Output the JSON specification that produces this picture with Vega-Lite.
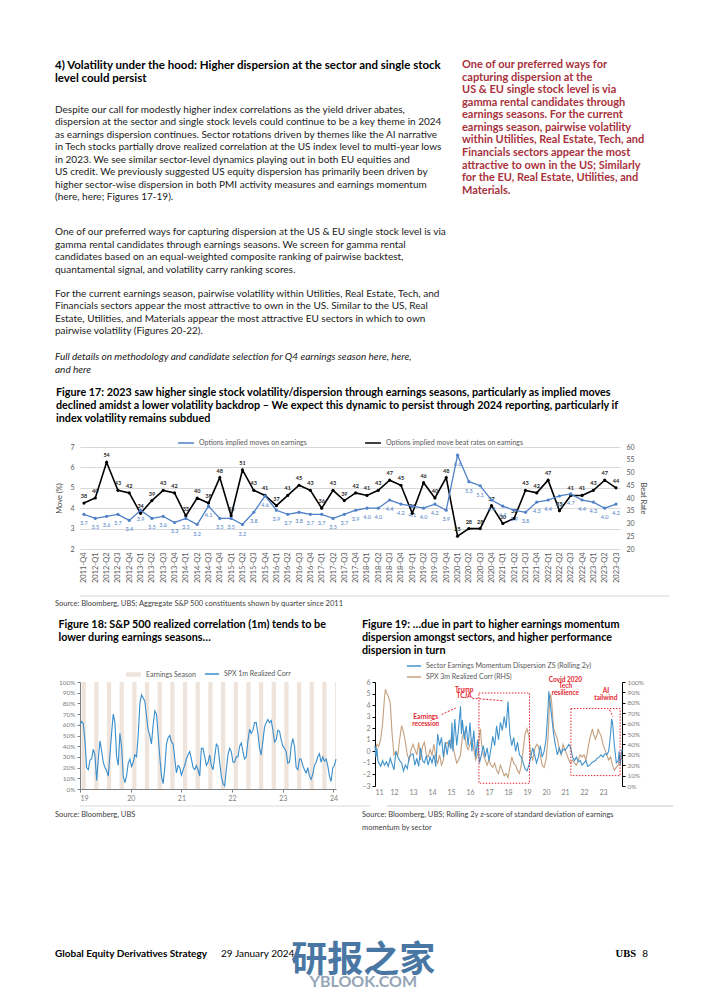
{
"$schema": "https://vega.github.io/schema/vega-lite/v6.json",
"background": "white",
"padding": {"left": 55, "top": 57, "right": 5, "bottom": 0},
"spacing": 0,
"resolve": {"scale": {"color": "independent", "fill": "independent", "stroke": "independent"}, "legend": {"color": "independent", "fill": "independent", "stroke": "independent"}},
"config": {
 "view": {"stroke": null},
 "font": "Lato",
 "axis": {"labelFont": "Lato", "titleFont": "Lato", "labelColor": "#595959", "titleColor": "#404040", "labelFontSize": 7, "titleFontSize": 7.5, "titleFontWeight": "normal", "domainColor": "#808080", "tickColor": "#808080", "labelOverlap": false},
 "legend": {"labelFont": "Lato", "labelColor": "#595959", "labelFontSize": 7, "labelLimit": 300, "layout": {"top": {"anchor": "middle"}}},
 "title": {"font": "Lato", "color": "#000000"}
},
"datasets": {
 "q17": [
  {"q":"2011-Q4","m":3.7,"b":38},{"q":"2012-Q1","m":3.5,"b":40},{"q":"2012-Q2","m":3.6,"b":54},{"q":"2012-Q3","m":3.7,"b":43},{"q":"2012-Q4","m":3.4,"b":42},
  {"q":"2013-Q1","m":3.9,"b":34},{"q":"2013-Q2","m":3.5,"b":39},{"q":"2013-Q3","m":3.6,"b":43},{"q":"2013-Q4","m":3.3,"b":42},
  {"q":"2014-Q1","m":3.5,"b":33},{"q":"2014-Q2","m":3.2,"b":40},{"q":"2014-Q3","m":4.1,"b":38},{"q":"2014-Q4","m":3.5,"b":48},
  {"q":"2015-Q1","m":3.5,"b":33},{"q":"2015-Q2","m":3.2,"b":51},{"q":"2015-Q3","m":3.8,"b":43},{"q":"2015-Q4","m":4.6,"b":41},
  {"q":"2016-Q1","m":3.9,"b":37},{"q":"2016-Q2","m":3.7,"b":41},{"q":"2016-Q3","m":3.8,"b":45},{"q":"2016-Q4","m":3.7,"b":43},
  {"q":"2017-Q1","m":3.7,"b":36},{"q":"2017-Q2","m":3.5,"b":43},{"q":"2017-Q3","m":3.7,"b":39},{"q":"2017-Q4","m":3.9,"b":42},
  {"q":"2018-Q1","m":4.0,"b":41},{"q":"2018-Q2","m":4.0,"b":43},{"q":"2018-Q3","m":4.4,"b":47},{"q":"2018-Q4","m":4.2,"b":45},
  {"q":"2019-Q1","m":4.1,"b":34},{"q":"2019-Q2","m":4.0,"b":46},{"q":"2019-Q3","m":4.2,"b":40},{"q":"2019-Q4","m":3.9,"b":48},
  {"q":"2020-Q1","m":6.6,"b":25},{"q":"2020-Q2","m":5.3,"b":28},{"q":"2020-Q3","m":5.1,"b":28},{"q":"2020-Q4","m":4.4,"b":37},
  {"q":"2021-Q1","m":4.1,"b":30},{"q":"2021-Q2","m":3.9,"b":32},{"q":"2021-Q3","m":3.8,"b":43},{"q":"2021-Q4","m":4.3,"b":42},
  {"q":"2022-Q1","m":4.4,"b":47},{"q":"2022-Q2","m":4.6,"b":35},{"q":"2022-Q3","m":4.7,"b":41},{"q":"2022-Q4","m":4.4,"b":41},
  {"q":"2023-Q1","m":4.3,"b":43},{"q":"2023-Q2","m":4.0,"b":47},{"q":"2023-Q3","m":4.2,"b":44}
 ],
 "bands": [
  {"s":2019.03,"e":2019.115},{"s":2019.28,"e":2019.365},{"s":2019.53,"e":2019.615},{"s":2019.78,"e":2019.865},
  {"s":2020.03,"e":2020.115},{"s":2020.28,"e":2020.365},{"s":2020.53,"e":2020.615},{"s":2020.78,"e":2020.865},
  {"s":2021.03,"e":2021.115},{"s":2021.28,"e":2021.365},{"s":2021.53,"e":2021.615},{"s":2021.78,"e":2021.865},
  {"s":2022.03,"e":2022.115},{"s":2022.28,"e":2022.365},{"s":2022.53,"e":2022.615},{"s":2022.78,"e":2022.865},
  {"s":2023.03,"e":2023.115},{"s":2023.28,"e":2023.365},{"s":2023.53,"e":2023.615},{"s":2023.78,"e":2023.865},
  {"s":2024.03,"e":2024.05}
 ],
 "corr18": [
  {"t":2019.000,"v":60},{"t":2019.033,"v":63},{"t":2019.066,"v":61},{"t":2019.098,"v":45},{"t":2019.131,"v":20},{"t":2019.164,"v":18},{"t":2019.197,"v":27},{"t":2019.230,"v":28},{"t":2019.262,"v":37},{"t":2019.295,"v":32},
  {"t":2019.328,"v":8},{"t":2019.361,"v":28},{"t":2019.394,"v":45},{"t":2019.426,"v":36},{"t":2019.459,"v":25},{"t":2019.492,"v":20},{"t":2019.525,"v":17},{"t":2019.558,"v":12},{"t":2019.590,"v":32},{"t":2019.623,"v":52},
  {"t":2019.656,"v":70},{"t":2019.689,"v":62},{"t":2019.722,"v":30},{"t":2019.754,"v":22},{"t":2019.787,"v":52},{"t":2019.820,"v":40},{"t":2019.853,"v":12},{"t":2019.886,"v":6},{"t":2019.918,"v":12},{"t":2019.951,"v":24},
  {"t":2019.984,"v":28},{"t":2020.017,"v":21},{"t":2020.050,"v":25},{"t":2020.082,"v":32},{"t":2020.115,"v":30},{"t":2020.148,"v":50},{"t":2020.181,"v":80},{"t":2020.214,"v":88},{"t":2020.246,"v":85},{"t":2020.279,"v":82},
  {"t":2020.312,"v":68},{"t":2020.345,"v":55},{"t":2020.378,"v":50},{"t":2020.410,"v":42},{"t":2020.443,"v":60},{"t":2020.476,"v":73},{"t":2020.509,"v":70},{"t":2020.542,"v":50},{"t":2020.574,"v":30},{"t":2020.607,"v":12},
  {"t":2020.640,"v":5},{"t":2020.673,"v":20},{"t":2020.706,"v":42},{"t":2020.738,"v":48},{"t":2020.771,"v":50},{"t":2020.804,"v":44},{"t":2020.837,"v":42},{"t":2020.870,"v":28},{"t":2020.902,"v":15},{"t":2020.935,"v":22},
  {"t":2020.968,"v":20},{"t":2021.001,"v":13},{"t":2021.034,"v":18},{"t":2021.066,"v":22},{"t":2021.099,"v":28},{"t":2021.132,"v":32},{"t":2021.165,"v":35},{"t":2021.198,"v":28},{"t":2021.230,"v":20},{"t":2021.263,"v":18},
  {"t":2021.296,"v":22},{"t":2021.329,"v":18},{"t":2021.362,"v":12},{"t":2021.394,"v":38},{"t":2021.427,"v":38},{"t":2021.460,"v":30},{"t":2021.493,"v":22},{"t":2021.526,"v":25},{"t":2021.558,"v":32},{"t":2021.591,"v":22},
  {"t":2021.624,"v":18},{"t":2021.657,"v":30},{"t":2021.690,"v":42},{"t":2021.722,"v":40},{"t":2021.755,"v":25},{"t":2021.788,"v":12},{"t":2021.821,"v":5},{"t":2021.854,"v":3},{"t":2021.886,"v":18},{"t":2021.919,"v":32},
  {"t":2021.952,"v":38},{"t":2021.985,"v":35},{"t":2022.018,"v":25},{"t":2022.050,"v":25},{"t":2022.083,"v":30},{"t":2022.116,"v":30},{"t":2022.149,"v":40},{"t":2022.182,"v":43},{"t":2022.214,"v":35},{"t":2022.247,"v":28},
  {"t":2022.280,"v":30},{"t":2022.313,"v":45},{"t":2022.346,"v":56},{"t":2022.378,"v":52},{"t":2022.411,"v":55},{"t":2022.444,"v":62},{"t":2022.477,"v":62},{"t":2022.510,"v":52},{"t":2022.542,"v":38},{"t":2022.575,"v":32},
  {"t":2022.608,"v":45},{"t":2022.641,"v":58},{"t":2022.674,"v":62},{"t":2022.706,"v":65},{"t":2022.739,"v":62},{"t":2022.772,"v":64},{"t":2022.805,"v":55},{"t":2022.838,"v":44},{"t":2022.870,"v":46},{"t":2022.903,"v":55},
  {"t":2022.936,"v":54},{"t":2022.969,"v":46},{"t":2023.002,"v":40},{"t":2023.034,"v":38},{"t":2023.067,"v":35},{"t":2023.100,"v":24},{"t":2023.133,"v":25},{"t":2023.166,"v":40},{"t":2023.198,"v":47},{"t":2023.231,"v":40},
  {"t":2023.264,"v":20},{"t":2023.297,"v":18},{"t":2023.330,"v":28},{"t":2023.362,"v":28},{"t":2023.395,"v":22},{"t":2023.428,"v":18},{"t":2023.461,"v":15},{"t":2023.494,"v":20},{"t":2023.526,"v":12},{"t":2023.559,"v":9},
  {"t":2023.592,"v":14},{"t":2023.625,"v":22},{"t":2023.658,"v":25},{"t":2023.690,"v":30},{"t":2023.723,"v":33},{"t":2023.756,"v":25},{"t":2023.789,"v":30},{"t":2023.822,"v":26},{"t":2023.854,"v":28},{"t":2023.887,"v":22},
  {"t":2023.920,"v":12},{"t":2023.953,"v":7},{"t":2023.986,"v":20},{"t":2024.018,"v":22},{"t":2024.051,"v":28}
 ],
 "zs19": [
  {"t":2011.0,"v":0.5},{"t":2011.05,"v":-0.5},{"t":2011.1,"v":0.3},{"t":2011.15,"v":-0.8},{"t":2011.2,"v":-1.0},{"t":2011.3,"v":-1.3},{"t":2011.4,"v":-0.8},{"t":2011.5,"v":-1.2},{"t":2011.6,"v":-0.9},{"t":2011.7,"v":-1.3},{"t":2011.8,"v":-0.6},{"t":2011.9,"v":-1.1},
  {"t":2012.0,"v":-1.6},{"t":2012.1,"v":0.0},{"t":2012.2,"v":-0.5},{"t":2012.3,"v":-0.8},{"t":2012.4,"v":-1.0},{"t":2012.5,"v":-1.7},{"t":2012.6,"v":-1.2},{"t":2012.7,"v":-1.5},{"t":2012.8,"v":-0.5},{"t":2012.9,"v":-0.3},
  {"t":2013.0,"v":-0.2},{"t":2013.1,"v":-1.2},{"t":2013.2,"v":-0.6},{"t":2013.3,"v":-1.3},{"t":2013.4,"v":0.3},{"t":2013.5,"v":-0.8},{"t":2013.6,"v":-1.0},{"t":2013.7,"v":-0.4},{"t":2013.8,"v":-1.2},{"t":2013.9,"v":-0.5},
  {"t":2014.0,"v":-1.0},{"t":2014.1,"v":-0.3},{"t":2014.2,"v":-1.3},{"t":2014.3,"v":1.5},{"t":2014.4,"v":0.5},{"t":2014.5,"v":1.2},{"t":2014.6,"v":-0.5},{"t":2014.7,"v":0.8},{"t":2014.8,"v":-0.3},{"t":2014.9,"v":1.0},
  {"t":2015.0,"v":0.2},{"t":2015.05,"v":2.5},{"t":2015.1,"v":0.0},{"t":2015.2,"v":2.8},{"t":2015.3,"v":0.5},{"t":2015.4,"v":2.0},{"t":2015.5,"v":3.9},{"t":2015.55,"v":1.5},{"t":2015.6,"v":2.7},{"t":2015.7,"v":1.0},{"t":2015.8,"v":2.2},{"t":2015.9,"v":0.5},
  {"t":2016.0,"v":2.5},{"t":2016.1,"v":0.0},{"t":2016.2,"v":1.8},{"t":2016.3,"v":-0.5},{"t":2016.4,"v":1.0},{"t":2016.5,"v":-1.0},{"t":2016.6,"v":-0.3},{"t":2016.7,"v":0.5},{"t":2016.8,"v":-0.5},{"t":2016.9,"v":0.3},
  {"t":2017.0,"v":-0.8},{"t":2017.1,"v":0.2},{"t":2017.2,"v":1.3},{"t":2017.3,"v":0.5},{"t":2017.4,"v":2.2},{"t":2017.5,"v":1.0},{"t":2017.6,"v":2.5},{"t":2017.7,"v":1.8},{"t":2017.8,"v":3.0},{"t":2017.9,"v":2.0},
  {"t":2018.0,"v":4.3},{"t":2018.1,"v":1.5},{"t":2018.2,"v":0.5},{"t":2018.3,"v":1.2},{"t":2018.4,"v":0.0},{"t":2018.5,"v":0.8},{"t":2018.6,"v":-0.3},{"t":2018.7,"v":-0.5},{"t":2018.8,"v":-1.0},{"t":2018.9,"v":-1.5},
  {"t":2019.0,"v":-1.7},{"t":2019.1,"v":-1.2},{"t":2019.2,"v":-0.5},{"t":2019.3,"v":0.3},{"t":2019.4,"v":-0.3},{"t":2019.5,"v":-1.0},{"t":2019.6,"v":-0.5},{"t":2019.7,"v":0.5},{"t":2019.8,"v":-0.5},{"t":2019.9,"v":0.0},
  {"t":2020.0,"v":1.0},{"t":2020.1,"v":3.5},{"t":2020.15,"v":5.2},{"t":2020.2,"v":4.5},{"t":2020.3,"v":3.0},{"t":2020.4,"v":1.5},{"t":2020.5,"v":0.5},{"t":2020.6,"v":-0.3},{"t":2020.7,"v":0.3},{"t":2020.8,"v":-0.2},{"t":2020.9,"v":0.2},
  {"t":2021.0,"v":0.1},{"t":2021.1,"v":0.3},{"t":2021.2,"v":0.6},{"t":2021.3,"v":0.3},{"t":2021.4,"v":-0.5},{"t":2021.5,"v":-0.8},{"t":2021.6,"v":-0.5},{"t":2021.7,"v":-0.9},{"t":2021.8,"v":-0.8},{"t":2021.9,"v":-1.2},
  {"t":2022.0,"v":-1.0},{"t":2022.1,"v":-0.8},{"t":2022.2,"v":-1.3},{"t":2022.3,"v":-1.2},{"t":2022.4,"v":-1.0},{"t":2022.5,"v":-0.9},{"t":2022.6,"v":-0.8},{"t":2022.7,"v":-0.6},{"t":2022.8,"v":-0.5},{"t":2022.9,"v":-0.3},
  {"t":2023.0,"v":-0.5},{"t":2023.1,"v":-0.2},{"t":2023.2,"v":-0.3},{"t":2023.3,"v":0.0},{"t":2023.4,"v":1.5},{"t":2023.45,"v":2.8},{"t":2023.5,"v":2.5},{"t":2023.6,"v":0.5},{"t":2023.7,"v":-1.0},{"t":2023.8,"v":-0.8},{"t":2023.85,"v":0.0},{"t":2023.9,"v":-1.2},{"t":2024.0,"v":0.2}
 ],
 "corr19": [
  {"t":2011.0,"v":30},{"t":2011.1,"v":40},{"t":2011.2,"v":38},{"t":2011.3,"v":45},{"t":2011.4,"v":60},{"t":2011.5,"v":85},{"t":2011.55,"v":93},{"t":2011.6,"v":90},{"t":2011.7,"v":86},{"t":2011.8,"v":80},{"t":2011.9,"v":50},
  {"t":2012.0,"v":30},{"t":2012.1,"v":33},{"t":2012.2,"v":30},{"t":2012.3,"v":45},{"t":2012.4,"v":58},{"t":2012.5,"v":52},{"t":2012.6,"v":42},{"t":2012.7,"v":30},{"t":2012.8,"v":25},{"t":2012.9,"v":35},
  {"t":2013.0,"v":40},{"t":2013.1,"v":35},{"t":2013.2,"v":30},{"t":2013.3,"v":42},{"t":2013.4,"v":25},{"t":2013.5,"v":38},{"t":2013.6,"v":42},{"t":2013.7,"v":30},{"t":2013.8,"v":28},{"t":2013.9,"v":35},
  {"t":2014.0,"v":30},{"t":2014.1,"v":40},{"t":2014.2,"v":28},{"t":2014.3,"v":22},{"t":2014.4,"v":30},{"t":2014.5,"v":20},{"t":2014.6,"v":25},{"t":2014.7,"v":40},{"t":2014.8,"v":42},{"t":2014.9,"v":38},
  {"t":2015.0,"v":45},{"t":2015.1,"v":38},{"t":2015.2,"v":30},{"t":2015.3,"v":22},{"t":2015.4,"v":25},{"t":2015.5,"v":30},{"t":2015.6,"v":48},{"t":2015.7,"v":52},{"t":2015.8,"v":40},{"t":2015.9,"v":35},
  {"t":2016.0,"v":40},{"t":2016.1,"v":45},{"t":2016.2,"v":35},{"t":2016.3,"v":25},{"t":2016.4,"v":30},{"t":2016.5,"v":50},{"t":2016.55,"v":55},{"t":2016.6,"v":42},{"t":2016.7,"v":30},{"t":2016.8,"v":25},{"t":2016.9,"v":20},
  {"t":2017.0,"v":25},{"t":2017.1,"v":20},{"t":2017.2,"v":18},{"t":2017.3,"v":22},{"t":2017.4,"v":15},{"t":2017.5,"v":12},{"t":2017.6,"v":20},{"t":2017.7,"v":15},{"t":2017.8,"v":10},{"t":2017.9,"v":12},
  {"t":2018.0,"v":8},{"t":2018.1,"v":18},{"t":2018.2,"v":28},{"t":2018.3,"v":22},{"t":2018.4,"v":20},{"t":2018.5,"v":15},{"t":2018.6,"v":12},{"t":2018.7,"v":20},{"t":2018.8,"v":35},{"t":2018.9,"v":50},
  {"t":2019.0,"v":55},{"t":2019.1,"v":48},{"t":2019.2,"v":30},{"t":2019.3,"v":25},{"t":2019.4,"v":35},{"t":2019.5,"v":40},{"t":2019.6,"v":38},{"t":2019.7,"v":30},{"t":2019.8,"v":20},{"t":2019.9,"v":18},
  {"t":2020.0,"v":25},{"t":2020.1,"v":45},{"t":2020.2,"v":85},{"t":2020.25,"v":88},{"t":2020.3,"v":80},{"t":2020.4,"v":55},{"t":2020.5,"v":50},{"t":2020.6,"v":45},{"t":2020.7,"v":35},{"t":2020.8,"v":30},{"t":2020.9,"v":40},
  {"t":2021.0,"v":35},{"t":2021.1,"v":30},{"t":2021.2,"v":25},{"t":2021.3,"v":22},{"t":2021.4,"v":25},{"t":2021.5,"v":22},{"t":2021.6,"v":20},{"t":2021.7,"v":25},{"t":2021.8,"v":30},{"t":2021.9,"v":28},
  {"t":2022.0,"v":30},{"t":2022.1,"v":25},{"t":2022.2,"v":35},{"t":2022.3,"v":45},{"t":2022.4,"v":52},{"t":2022.45,"v":55},{"t":2022.5,"v":50},{"t":2022.6,"v":45},{"t":2022.7,"v":50},{"t":2022.75,"v":55},{"t":2022.8,"v":52},{"t":2022.9,"v":48},
  {"t":2023.0,"v":40},{"t":2023.1,"v":35},{"t":2023.2,"v":30},{"t":2023.3,"v":25},{"t":2023.4,"v":28},{"t":2023.5,"v":20},{"t":2023.6,"v":15},{"t":2023.7,"v":18},{"t":2023.8,"v":20},{"t":2023.9,"v":30},{"t":2024.0,"v":25}
 ],
 "boxes": [{"t1":2016.47,"t2":2019.13,"y1":5.05,"y2":-2.76},{"t1":2021.31,"t2":2023.9,"y1":3.7,"y2":-2.1}],
 "arrows": [{"t1":2014.5,"y1":3.18,"t2":2015.25,"y2":3.75},{"t1":2016.12,"y1":4.6,"t2":2017.7,"y2":4.38},{"t1":2023.34,"y1":3.6,"t2":2023.52,"y2":3.0}],
 "notes": [
  {"t":2013.67,"y":3.0,"s":"Earnings"},{"t":2013.67,"y":2.35,"s":"recession"},
  {"t":2015.69,"y":5.35,"s":"Trump"},{"t":2015.69,"y":4.83,"s":"TCJA"},
  {"t":2021.02,"y":6.2,"s":"Covid 2020"},{"t":2021.02,"y":5.62,"s":"Tech"},{"t":2021.02,"y":5.05,"s":"resilience"},
  {"t":2023.15,"y":5.2,"s":"AI"},{"t":2023.15,"y":4.65,"s":"tailwind"}
 ]
},
"vconcat": [
 {
  "hconcat": [
   {
    "width": 392, "height": 330,
    "data": {"values": [
     {"i":0,"s":"h","t":"4) Volatility under the hood: Higher dispersion at the sector and single stock"},
     {"i":1,"s":"h","t":"level could persist"},
     {"i":3.5,"s":"n","t":"Despite our call for modestly higher index correlations as the yield driver abates,"},
     {"i":4.5,"s":"n","t":"dispersion at the sector and single stock levels could continue to be a key theme in 2024"},
     {"i":5.5,"s":"n","t":"as earnings dispersion continues. Sector rotations driven by themes like the AI narrative"},
     {"i":6.5,"s":"n","t":"in Tech stocks partially drove realized correlation at the US index level to multi-year lows"},
     {"i":7.5,"s":"n","t":"in 2023. We see similar sector-level dynamics playing out in both EU equities and"},
     {"i":8.5,"s":"n","t":"US credit. We previously suggested US equity dispersion has primarily been driven by"},
     {"i":9.5,"s":"n","t":"higher sector-wise dispersion in both PMI activity measures and earnings momentum"},
     {"i":10.5,"s":"n","t":"(here, here; Figures 17-19)."},
     {"i":13.3,"s":"n","t":"One of our preferred ways for capturing dispersion at the US & EU single stock level is via"},
     {"i":14.3,"s":"n","t":"gamma rental candidates through earnings seasons. We screen for gamma rental"},
     {"i":15.3,"s":"n","t":"candidates based on an equal-weighted composite ranking of pairwise backtest,"},
     {"i":16.3,"s":"n","t":"quantamental signal, and volatility carry ranking scores."},
     {"i":18.2,"s":"n","t":"For the current earnings season, pairwise volatility within Utilities, Real Estate, Tech, and"},
     {"i":19.2,"s":"n","t":"Financials sectors appear the most attractive to own in the US. Similar to the US, Real"},
     {"i":20.2,"s":"n","t":"Estate, Utilities, and Materials appear the most attractive EU sectors in which to own"},
     {"i":21.2,"s":"n","t":"pairwise volatility (Figures 20-22)."},
     {"i":23.3,"s":"it","t":"Full details on methodology and candidate selection for Q4 earnings season here, here,"},
     {"i":24.3,"s":"it","t":"and here"}
    ]},
    "encoding": {
     "x": {"datum": 0, "type": "quantitative", "scale": {"domain": [0, 1]}, "axis": null},
     "y": {"field": "i", "type": "quantitative", "scale": {"domain": [-0.72, 25.68], "reverse": true, "nice": false, "zero": false}, "axis": null},
     "text": {"field": "t"}
    },
    "layer": [
     {"transform": [{"filter": "datum.s === 'h'"}], "mark": {"type": "text", "align": "left", "baseline": "middle", "dx": -25, "fontWeight": "bold", "fontSize": 11.5, "color": "#000000"}},
     {"transform": [{"filter": "datum.s === 'n'"}], "mark": {"type": "text", "align": "left", "baseline": "middle", "dx": -25, "fontSize": 10, "color": "#1a1a1a"}},
     {"transform": [{"filter": "datum.s === 'it'"}], "mark": {"type": "text", "align": "left", "baseline": "middle", "dx": -25, "fontSize": 10, "fontStyle": "italic", "color": "#1a1a1a"}}
    ]
   },
   {
    "width": 190, "height": 330,
    "data": {"values": [
     {"i":0,"t":"One of our preferred ways for"},
     {"i":1,"t":"capturing dispersion at the"},
     {"i":2,"t":"US & EU single stock level is via"},
     {"i":3,"t":"gamma rental candidates through"},
     {"i":4,"t":"earnings seasons. For the current"},
     {"i":5,"t":"earnings season, pairwise volatility"},
     {"i":6,"t":"within Utilities, Real Estate, Tech, and"},
     {"i":7,"t":"Financials sectors appear the most"},
     {"i":8,"t":"attractive to own in the US; Similarly"},
     {"i":9,"t":"for the EU, Real Estate, Utilities, and"},
     {"i":10,"t":"Materials."}
    ]},
    "mark": {"type": "text", "align": "left", "baseline": "middle", "dx": -25, "fontWeight": "bold", "fontSize": 11, "color": "#a8323c"},
    "encoding": {
     "x": {"datum": 0, "type": "quantitative", "scale": {"domain": [0, 1]}, "axis": null},
     "y": {"field": "i", "type": "quantitative", "scale": {"domain": [-0.636, 25.62], "reverse": true, "nice": false, "zero": false}, "axis": null},
     "text": {"field": "t"}
    }
   }
  ],
  "spacing": 15,
  "bounds": "flush"
 },
 {
  "width": 540, "height": 102,
  "title": {"text": ["Figure 17: 2023 saw higher single stock volatility/dispersion through earnings seasons, particularly as implied moves", "declined amidst a lower volatility backdrop – We expect this dynamic to persist through 2024 reporting, particularly if", "index volatility remains subdued"], "anchor": "start", "frame": "bounds", "fontSize": 10.8, "fontWeight": "bold", "lineHeight": 13, "offset": 10},
  "data": {"name": "q17"},
  "encoding": {
   "x": {"field": "q", "type": "ordinal", "sort": null, "scale": {"type": "point", "padding": 0.35}, "axis": {"title": null, "labelAngle": -90, "labelFontSize": 7.5, "labelPadding": 3, "domain": false, "ticks": false}}
  },
  "layer": [
   {
    "encoding": {"y": {"field": "b", "type": "quantitative", "scale": {"domain": [20, 60], "nice": false, "zero": false}, "axis": {"title": "Beat Rate", "orient": "right", "values": [20,25,30,35,40,45,50,55,60], "grid": false, "domain": false, "ticks": false, "labelPadding": 6, "titlePadding": 4}}},
    "layer": [
     {"mark": {"type": "line", "strokeWidth": 1.6}, "encoding": {"color": {"datum": "Options implied move beat rates on earnings", "type": "nominal", "scale": {"domain": ["Options implied moves on earnings", "Options implied move beat rates on earnings"], "range": ["#4f81c7", "#000000"]}, "legend": {"title": null, "orient": "top", "direction": "horizontal", "symbolType": "stroke", "symbolStrokeWidth": 1.5, "symbolSize": 250, "columnPadding": 55, "offset": 1, "padding": 0, "labelFontSize": 7}}}},
     {"mark": {"type": "point", "filled": true, "size": 10, "opacity": 1}, "encoding": {"color": {"datum": "Options implied move beat rates on earnings", "type": "nominal"}}},
     {"mark": {"type": "text", "dy": -7, "fontSize": 5.5, "fontWeight": "bold", "color": "#262626"}, "encoding": {"text": {"field": "b", "type": "quantitative"}}}
    ]
   },
   {
    "encoding": {"y": {"field": "m", "type": "quantitative", "scale": {"domain": [2, 7], "nice": false, "zero": false}, "axis": {"title": "Move (%)", "orient": "left", "values": [2,3,4,5,6,7], "grid": true, "gridColor": "#d9d9d9", "domain": false, "ticks": false, "labelPadding": 6, "titlePadding": 6}}},
    "layer": [
     {"mark": {"type": "line", "strokeWidth": 1.3}, "encoding": {"color": {"datum": "Options implied moves on earnings", "type": "nominal"}}},
     {"mark": {"type": "point", "filled": true, "size": 10, "opacity": 1}, "encoding": {"color": {"datum": "Options implied moves on earnings", "type": "nominal"}}},
     {"mark": {"type": "text", "dy": 9, "fontSize": 5.5, "color": "#4f81c7"}, "encoding": {"text": {"field": "m", "type": "quantitative", "format": ".1f"}}}
    ]
   }
  ],
  "resolve": {"scale": {"y": "independent"}}
 },
 {
  "width": 590, "height": 36,
  "data": {"values": [{"t": "Source: Bloomberg, UBS; Aggregate S&P 500 constituents shown by quarter since 2011"}]},
  "layer": [
   {"mark": {"type": "rule", "color": "#d9d9d9", "strokeWidth": 1}, "encoding": {"y": {"datum": 1.3, "type": "quantitative", "scale": {"domain": [0, 3.6], "reverse": true, "nice": false, "zero": false}, "axis": null}}},
   {"mark": {"type": "text", "align": "left", "baseline": "middle", "dx": -25, "fontSize": 7.5, "color": "#404040"}, "encoding": {"x": {"datum": 0, "type": "quantitative", "scale": {"domain": [0, 1]}, "axis": null}, "y": {"datum": 2.1, "type": "quantitative"}, "text": {"field": "t"}}}
  ]
 },
 {
  "hconcat": [
   {
    "width": 256, "height": 107,
    "title": {"text": ["Figure 18: S&P 500 realized correlation (1m) tends to be", "lower during earnings seasons…"], "anchor": "start", "frame": "bounds", "fontSize": 10.8, "fontWeight": "bold", "lineHeight": 13, "offset": 23},
    "layer": [
     {"data": {"name": "bands"}, "mark": {"type": "rect"}, "encoding": {
       "x": {"field": "s", "type": "quantitative", "scale": {"domain": [2019, 2024.05], "nice": false, "zero": false}, "axis": {"title": null, "values": [2019,2020,2021,2022,2023,2024], "labelExpr": "substring(toString(datum.value), 2)", "grid": false, "domain": true, "ticks": true, "tickSize": 3, "labelFontSize": 7, "labelColor": "#808080"}},
       "x2": {"field": "e"},
       "fill": {"datum": "Earnings Season", "type": "nominal", "scale": {"range": ["#efe4dc"]}, "legend": {"title": null, "orient": "top", "symbolType": "M-1,-0.3H1V0.3H-1Z", "symbolSize": 220, "offset": 4, "padding": 0, "labelFontSize": 7}}
     }},
     {"data": {"name": "corr18"}, "mark": {"type": "line", "strokeWidth": 1.1}, "encoding": {
       "x": {"field": "t", "type": "quantitative", "axis": {"title": null, "values": [2019,2020,2021,2022,2023,2024], "labelExpr": "substring(toString(datum.value), 2)", "grid": false, "domain": true, "ticks": true, "tickSize": 3, "labelFontSize": 7, "labelColor": "#808080"}},
       "y": {"field": "v", "type": "quantitative", "scale": {"domain": [0, 100], "nice": false}, "axis": {"title": null, "values": [0,10,20,30,40,50,60,70,80,90,100], "labelExpr": "datum.value + '%'", "grid": false, "domain": true, "ticks": true, "tickSize": 3, "labelFontSize": 6.5, "labelColor": "#808080"}},
       "stroke": {"datum": "SPX 1m Realized Corr", "type": "nominal", "scale": {"range": ["#3a8ecc"]}, "legend": {"title": null, "orient": "top", "symbolType": "stroke", "symbolSize": 200, "symbolStrokeWidth": 1.5, "offset": 4, "padding": 0, "labelFontSize": 7}}
     }}
    ]
   },
   {
    "width": 247, "height": 104,
    "title": {"text": ["Figure 19: …due in part to higher earnings momentum", "dispersion amongst sectors, and higher performance", "dispersion in turn"], "anchor": "start", "frame": "bounds", "fontSize": 10.8, "fontWeight": "bold", "lineHeight": 13, "offset": 2},
    "layer": [
     {"data": {"name": "corr19"}, "mark": {"type": "line", "strokeWidth": 1.1}, "encoding": {
       "x": {"field": "t", "type": "quantitative", "scale": {"domain": [2011, 2024], "nice": false, "zero": false}, "axis": {"title": null, "values": [2011,2012,2013,2014,2015,2016,2017,2018,2019,2020,2021,2022,2023], "labelExpr": "substring(toString(datum.value), 2)", "grid": false, "domain": false, "ticks": false, "labelFontSize": 7, "labelColor": "#808080"}},
       "y": {"field": "v", "type": "quantitative", "scale": {"domain": [0, 100], "nice": false}, "axis": {"title": null, "orient": "right", "values": [0,10,20,30,40,50,60,70,80,90,100], "labelExpr": "datum.value + '%'", "grid": false, "domain": true, "domainColor": "#000000", "ticks": true, "tickColor": "#000000", "tickSize": 3, "labelFontSize": 6.5, "labelColor": "#808080"}},
       "color": {"datum": "SPX 3m Realized Corr (RHS)", "type": "nominal", "scale": {"domain": ["Sector Earnings Momentum Dispersion ZS (Rolling 2y)", "SPX 3m Realized Corr (RHS)"], "range": ["#4393cb", "#c4a07f"]}, "legend": {"title": null, "orient": "top", "direction": "vertical", "symbolType": "stroke", "symbolSize": 200, "symbolStrokeWidth": 1.5, "offset": 2, "padding": 0, "rowPadding": 0, "labelFontSize": 7}}
     }},
     {
      "layer": [
       {"data": {"name": "zs19"}, "mark": {"type": "line", "strokeWidth": 1.1}, "encoding": {
         "x": {"field": "t", "type": "quantitative", "axis": {"title": null, "values": [2011,2012,2013,2014,2015,2016,2017,2018,2019,2020,2021,2022,2023], "labelExpr": "substring(toString(datum.value), 2)", "grid": false, "domain": false, "ticks": false, "labelFontSize": 7, "labelColor": "#808080"}},
         "y": {"field": "v", "type": "quantitative", "scale": {"domain": [-3, 6], "nice": false, "zero": false}, "axis": {"title": null, "orient": "left", "values": [-3,-2,-1,0,1,2,3,4,5,6], "grid": false, "domain": true, "domainColor": "#000000", "ticks": true, "tickColor": "#000000", "tickSize": 3, "labelFontSize": 7, "labelColor": "#808080"}},
         "color": {"datum": "Sector Earnings Momentum Dispersion ZS (Rolling 2y)", "type": "nominal"}
       }},
       {"mark": {"type": "rule", "color": "#1f3864", "strokeWidth": 1.2}, "encoding": {"y": {"datum": 0, "type": "quantitative", "axis": {"title": null, "orient": "left", "values": [-3,-2,-1,0,1,2,3,4,5,6], "grid": false, "domain": true, "domainColor": "#000000", "ticks": true, "tickColor": "#000000", "tickSize": 3, "labelFontSize": 7, "labelColor": "#808080"}}}},
       {"data": {"name": "boxes"}, "mark": {"type": "rect", "filled": false, "stroke": "#e3262d", "strokeWidth": 1, "strokeDash": [1.5, 1.5]}, "encoding": {
         "x": {"field": "t1", "type": "quantitative", "axis": {"title": null, "values": [2011,2012,2013,2014,2015,2016,2017,2018,2019,2020,2021,2022,2023], "labelExpr": "substring(toString(datum.value), 2)", "grid": false, "domain": false, "ticks": false, "labelFontSize": 7, "labelColor": "#808080"}},
         "x2": {"field": "t2"},
         "y": {"field": "y1", "type": "quantitative", "axis": {"title": null, "orient": "left", "values": [-3,-2,-1,0,1,2,3,4,5,6], "grid": false, "domain": true, "domainColor": "#000000", "ticks": true, "tickColor": "#000000", "tickSize": 3, "labelFontSize": 7, "labelColor": "#808080"}},
         "y2": {"field": "y2"}}},
       {"data": {"name": "arrows"}, "mark": {"type": "rule", "color": "#e3262d", "strokeWidth": 1, "strokeDash": [2, 1.5]}, "encoding": {
         "x": {"field": "t1", "type": "quantitative", "axis": {"title": null, "values": [2011,2012,2013,2014,2015,2016,2017,2018,2019,2020,2021,2022,2023], "labelExpr": "substring(toString(datum.value), 2)", "grid": false, "domain": false, "ticks": false, "labelFontSize": 7, "labelColor": "#808080"}},
         "x2": {"field": "t2"},
         "y": {"field": "y1", "type": "quantitative", "axis": {"title": null, "orient": "left", "values": [-3,-2,-1,0,1,2,3,4,5,6], "grid": false, "domain": true, "domainColor": "#000000", "ticks": true, "tickColor": "#000000", "tickSize": 3, "labelFontSize": 7, "labelColor": "#808080"}},
         "y2": {"field": "y2"}}},
       {"data": {"name": "notes"}, "mark": {"type": "text", "color": "#e3262d", "fontWeight": "bold", "fontSize": 6.5, "baseline": "middle"}, "encoding": {
         "x": {"field": "t", "type": "quantitative", "axis": {"title": null, "values": [2011,2012,2013,2014,2015,2016,2017,2018,2019,2020,2021,2022,2023], "labelExpr": "substring(toString(datum.value), 2)", "grid": false, "domain": false, "ticks": false, "labelFontSize": 7, "labelColor": "#808080"}},
         "y": {"field": "y", "type": "quantitative", "axis": {"title": null, "orient": "left", "values": [-3,-2,-1,0,1,2,3,4,5,6], "grid": false, "domain": true, "domainColor": "#000000", "ticks": true, "tickColor": "#000000", "tickSize": 3, "labelFontSize": 7, "labelColor": "#808080"}},
         "text": {"field": "s"}}}
      ]
     }
    ],
    "resolve": {"scale": {"y": "independent"}}
   }
  ],
  "spacing": 39,
  "bounds": "flush",
  "resolve": {"scale": {"color": "independent", "fill": "independent", "stroke": "independent"}, "legend": {"color": "independent", "fill": "independent", "stroke": "independent"}}
 },
 {
  "hconcat": [
   {
    "width": 290, "height": 36,
    "data": {"values": [{"t": "Source: Bloomberg, UBS", "y": 1.4}]},
    "layer": [
     {"mark": {"type": "rule", "color": "#d9d9d9"}, "encoding": {"y": {"datum": 0.5, "type": "quantitative", "scale": {"domain": [0, 3.6], "reverse": true, "nice": false, "zero": false}, "axis": null}}},
     {"mark": {"type": "text", "align": "left", "baseline": "middle", "dx": -25, "fontSize": 7.5, "color": "#404040"}, "encoding": {"x": {"datum": 0, "type": "quantitative", "scale": {"domain": [0, 1]}, "axis": null}, "y": {"field": "y", "type": "quantitative"}, "text": {"field": "t"}}}
    ]
   },
   {
    "width": 286, "height": 36,
    "data": {"values": [{"t": "Source: Bloomberg, UBS; Rolling 2y z-score of standard deviation of earnings", "y": 1.4}, {"t": "momentum by sector", "y": 2.7}]},
    "layer": [
     {"mark": {"type": "rule", "color": "#d9d9d9"}, "encoding": {"y": {"datum": 0.5, "type": "quantitative", "scale": {"domain": [0, 3.6], "reverse": true, "nice": false, "zero": false}, "axis": null}}},
     {"mark": {"type": "text", "align": "left", "baseline": "middle", "dx": -25, "fontSize": 7.5, "color": "#404040"}, "encoding": {"x": {"datum": 0, "type": "quantitative", "scale": {"domain": [0, 1]}, "axis": null}, "y": {"field": "y", "type": "quantitative"}, "text": {"field": "t"}}}
    ]
   }
  ],
  "spacing": 17,
  "bounds": "flush"
 },
 {
  "width": 593, "height": 150,
  "data": {"values": [
   {"k": "a", "t": "Global Equity Derivatives Strategy", "x": 0, "y": 12.9},
   {"k": "b", "t": "29 January 2024", "x": 0.28, "y": 12.9},
   {"k": "u", "t": "UBS", "x": 1, "y": 12.9},
   {"k": "c", "t": "8", "x": 1, "y": 12.9},
   {"k": "w1", "t": "研报之家", "x": 0.52, "y": 13.65},
   {"k": "w2", "t": "YBLOOK.COM", "x": 0.52, "y": 16.0}
  ]},
  "encoding": {
   "x": {"field": "x", "type": "quantitative", "scale": {"domain": [0, 1]}, "axis": null},
   "y": {"field": "y", "type": "quantitative", "scale": {"domain": [0, 16.5], "reverse": true, "nice": false, "zero": false}, "axis": null},
   "text": {"field": "t"}
  },
  "layer": [
   {"transform": [{"filter": "datum.k === 'a'"}], "mark": {"type": "text", "align": "left", "baseline": "middle", "dx": -25, "fontSize": 10, "fontWeight": "bold", "color": "#000000"}},
   {"transform": [{"filter": "datum.k === 'b'"}], "mark": {"type": "text", "align": "left", "baseline": "middle", "dx": -25, "fontSize": 10, "color": "#000000"}},
   {"transform": [{"filter": "datum.k === 'u'"}], "mark": {"type": "text", "align": "right", "baseline": "middle", "dx": -37, "fontSize": 10.5, "fontWeight": "bold", "font": "Liberation Serif", "color": "#000000"}},
   {"transform": [{"filter": "datum.k === 'c'"}], "mark": {"type": "text", "align": "right", "baseline": "middle", "dx": -25, "fontSize": 10, "color": "#000000"}},
   {"transform": [{"filter": "datum.k === 'w1'"}], "mark": {"type": "text", "align": "center", "baseline": "middle", "dx": -25, "fontSize": 36, "fontWeight": "bold", "font": "Noto Sans CJK SC", "color": "#2b5f94", "opacity": 0.85}},
   {"transform": [{"filter": "datum.k === 'w2'"}], "mark": {"type": "text", "align": "center", "baseline": "middle", "dx": -25, "fontSize": 16, "fontWeight": "bold", "color": "#8a9bb0", "opacity": 0.9}}
  ]
 }
]
}
